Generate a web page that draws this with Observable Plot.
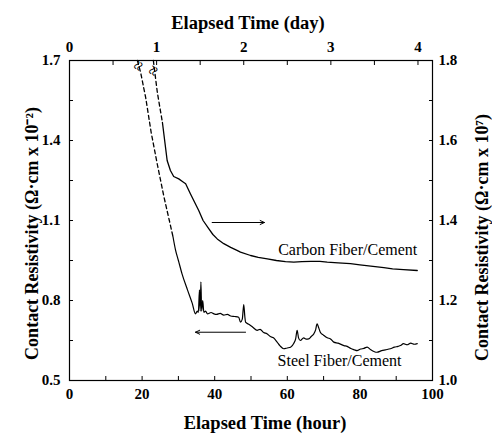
<!DOCTYPE html>
<html>
<head>
<meta charset="utf-8">
<script src="https://cdn.jsdelivr.net/npm/d3@7"></script>
<script src="https://cdn.jsdelivr.net/npm/@observablehq/plot@0.6"></script>
<style>
  html, body { margin: 0; padding: 0; background: #fff; }
  #chart svg { display: block; }
</style>
</head>
<body>
<div id="chart"></div>
<script>
// Steel fiber / cement contact resistivity (left axis, Ω·cm × 10⁻²)
const steelHour = [18.7, 19.6, 21, 22.5, 24.2, 26, 27.5, 28.5, 29.2, 30, 31, 32.5, 33.8, 34.7, 35.2, 35.5, 35.8, 36.0, 36.2, 36.4, 36.7, 37, 37.5, 38, 39, 39.8, 40.5, 41.5, 42.5, 43.5, 44.4, 45.5, 46.6, 47.1, 47.6, 48, 48.3, 48.5, 49.5, 50.5, 51.7, 52.5, 53.5, 54.4, 55.3, 56.2, 57.2, 58, 59, 60, 60.9, 61.8, 62.3, 62.7, 63.1, 63.6, 64.5, 65.2, 65.9, 66.6, 67.3, 67.8, 68.2, 68.6, 69.1, 70, 71, 71.9, 72.8, 74, 75.6, 76.5, 77.5, 78.5, 79.2, 80.2, 81, 82, 83, 84, 84.7, 86, 87, 88.4, 89.5, 90.5, 91.2, 92, 93, 94, 95, 95.8];
const steelValue = [1.70, 1.655, 1.56, 1.43, 1.31, 1.19, 1.10, 1.04, 0.99, 0.95, 0.90, 0.84, 0.79, 0.75, 0.76, 0.755, 0.84, 0.76, 0.87, 0.76, 0.80, 0.756, 0.76, 0.75, 0.755, 0.75, 0.748, 0.752, 0.745, 0.748, 0.742, 0.74, 0.737, 0.719, 0.73, 0.785, 0.74, 0.719, 0.71, 0.70, 0.688, 0.692, 0.68, 0.675, 0.665, 0.66, 0.644, 0.63, 0.619, 0.622, 0.625, 0.64, 0.656, 0.688, 0.66, 0.65, 0.66, 0.655, 0.656, 0.665, 0.675, 0.69, 0.712, 0.70, 0.681, 0.67, 0.66, 0.656, 0.644, 0.64, 0.631, 0.628, 0.62, 0.615, 0.612, 0.618, 0.62, 0.625, 0.615, 0.608, 0.606, 0.612, 0.615, 0.619, 0.625, 0.628, 0.631, 0.638, 0.634, 0.64, 0.636, 0.638];
const steelDashedUntil = 28.5; // hours: dashed segment before this

// Carbon fiber / cement contact resistivity (right axis, Ω·cm × 10⁷)
const carbonHour = [23.1, 24.2, 25.6, 26.9, 27.8, 28.7, 30.1, 31.2, 32, 33.3, 34.5, 35.6, 36.8, 38.4, 39.5, 40.7, 42.5, 44.4, 46, 47.1, 49.9, 52, 54.5, 57, 59.5, 61.8, 64, 66.5, 69, 71, 74, 77.4, 80, 83, 86.6, 89, 92, 95.8];
const carbonValue = [1.80, 1.72, 1.645, 1.55, 1.525, 1.51, 1.504, 1.497, 1.492, 1.467, 1.445, 1.425, 1.40, 1.379, 1.365, 1.354, 1.342, 1.333, 1.326, 1.321, 1.3125, 1.308, 1.304, 1.30, 1.297, 1.296, 1.297, 1.298, 1.298, 1.296, 1.294, 1.292, 1.289, 1.286, 1.282, 1.279, 1.277, 1.275];
const carbonDashedUntil = 25.6;

// Axis ticks
const hourTicks = [0, 20, 40, 60, 80, 100];
const hourMinor = [10, 30, 50, 70, 90];
const dayTicks = [0, 1, 2, 3, 4];
const dayMinor = [0.5, 1.5, 2.5, 3.5];
const leftTicks = [0.5, 0.8, 1.1, 1.4, 1.7];
const leftMinor = [0.65, 0.95, 1.25, 1.55];
const rightTicks = [1.0, 1.2, 1.4, 1.6, 1.8];
const rightMinor = [1.1, 1.3, 1.5, 1.7];

// Annotations: arrows pointing to each curve's axis, and curve names
const arrowFrom = [{h: 39.3, axis: "right", v: 1.395, to: 53.7}, {h: 48.5, axis: "left", v: 0.681, to: 34.7}];
const carbonName = [{name: "Carbon Fiber/Cement", h: 95.8, v: 0.991}];
const steelName = [{name: "Steel Fiber/Cement", h: 74.4, v: 0.575}];
const breakMarks = [{h: 19.0, v: 1.681}, {h: 23.1, v: 1.662}];

// Right-axis values are mapped into the left-axis domain
const L0 = 0.5, L1 = 1.7, R0 = 1.0, R1 = 1.8;
const toLeft = (r) => L0 + (r - R0) * (L1 - L0) / (R1 - R0);
const fromLeft = (l) => R0 + (l - L0) * (R1 - R0) / (L1 - L0);

const steel = steelHour.map((h, i) => ({h, v: steelValue[i]}));
const carbon = carbonHour.map((h, i) => ({h, v: toLeft(carbonValue[i])}));
const steelDash = steel.filter(d => d.h <= steelDashedUntil);
const steelSolid = steel.filter(d => d.h >= steelDashedUntil);
const carbonDash = carbon.filter(d => d.h <= carbonDashedUntil);
const carbonSolid = carbon.filter(d => d.h >= carbonDashedUntil);
const arrows = arrowFrom.map(a => ({x1: a.h, x2: a.to, y: a.axis === "right" ? toLeft(a.v) : a.v}));

const tick = {stroke: "black", strokeWidth: 1, fill: "none", label: null, tickSize: -4};
const lab = {tickSize: 0, label: null, fill: "black"};

const chart = Plot.plot({
  width: 492,
  height: 439,
  marginLeft: 69,
  marginRight: 60,
  marginTop: 60,
  marginBottom: 59,
  x: {domain: [0, 100]},
  y: {domain: [L0, L1]},
  style: {fontFamily: "'Liberation Serif', 'Times New Roman', serif", fontSize: "15px", fontWeight: "bold", color: "black", background: "white"},
  marks: [
    // bottom axis (hours)
    Plot.axisX({...tick, anchor: "bottom", ticks: [...hourTicks, ...hourMinor]}),
    Plot.axisX({...lab, anchor: "bottom", ticks: hourTicks, tickPadding: 8}),
    // top axis (days)
    Plot.axisX({...tick, anchor: "top", ticks: [...dayTicks, ...dayMinor].map(d => d * 24)}),
    Plot.axisX({...lab, anchor: "top", ticks: dayTicks.map(d => d * 24), tickFormat: d => String(d / 24), tickPadding: 9}),
    // left axis
    Plot.axisY({...tick, anchor: "left", ticks: [...leftTicks, ...leftMinor]}),
    Plot.axisY({...lab, anchor: "left", ticks: leftTicks, tickFormat: d => d.toFixed(1), tickPadding: 9}),
    // right axis
    Plot.axisY({...tick, anchor: "right", ticks: [...rightTicks, ...rightMinor].map(toLeft)}),
    Plot.axisY({...lab, anchor: "right", ticks: rightTicks.map(toLeft), tickFormat: d => fromLeft(d).toFixed(1), tickPadding: 6}),
    Plot.frame({stroke: "black", strokeWidth: 1.2}),

    // curves
    Plot.line(steelDash, {x: "h", y: "v", stroke: "black", strokeWidth: 1.3, strokeDasharray: "4,3"}),
    Plot.line(steelSolid, {x: "h", y: "v", stroke: "black", strokeWidth: 1.2, curve: "monotone-x"}),
    Plot.line(carbonDash, {x: "h", y: "v", stroke: "black", strokeWidth: 1.3, strokeDasharray: "4,3"}),
    Plot.line(carbonSolid, {x: "h", y: "v", stroke: "black", strokeWidth: 1.3}),

    // axis-break marks at the top of each curve
    Plot.text(breakMarks, {x: "h", y: "v", text: () => "≈", rotate: -60, fontSize: 18, fontWeight: "normal", fill: "black"}),

    // arrows
    Plot.arrow(arrows, {x1: "x1", x2: "x2", y1: "y", y2: "y", stroke: "black", strokeWidth: 1, headLength: 7, headAngle: 50}),

    // curve names
    Plot.text(carbonName, {x: "h", y: "v", text: "name", textAnchor: "end", fontSize: 16, fontWeight: "normal", fill: "black"}),
    Plot.text(steelName, {x: "h", y: "v", text: "name", textAnchor: "middle", fontSize: 16, fontWeight: "normal", fill: "black"}),

    // axis titles
    Plot.text(["Elapsed Time (hour)"], {frameAnchor: "bottom", dx: 14, dy: 48, fontSize: 18.5, fill: "black"}),
    Plot.text(["Elapsed Time (day)"], {frameAnchor: "top", dx: -3, dy: -45, fontSize: 18.5, fill: "black"}),
    Plot.text(["Contact Resistivity (Ω·cm x 10⁻²)"], {frameAnchor: "left", textAnchor: "middle", dx: -37, dy: 13, rotate: -90, fontSize: 18, fill: "black"}),
    Plot.text(["Contact Resistivity (Ω·cm x 10⁷)"], {frameAnchor: "right", textAnchor: "middle", dx: 50, dy: 17, rotate: -90, fontSize: 18, fill: "black"})
  ]
});

document.getElementById("chart").append(chart);
</script>
</body>
</html>
